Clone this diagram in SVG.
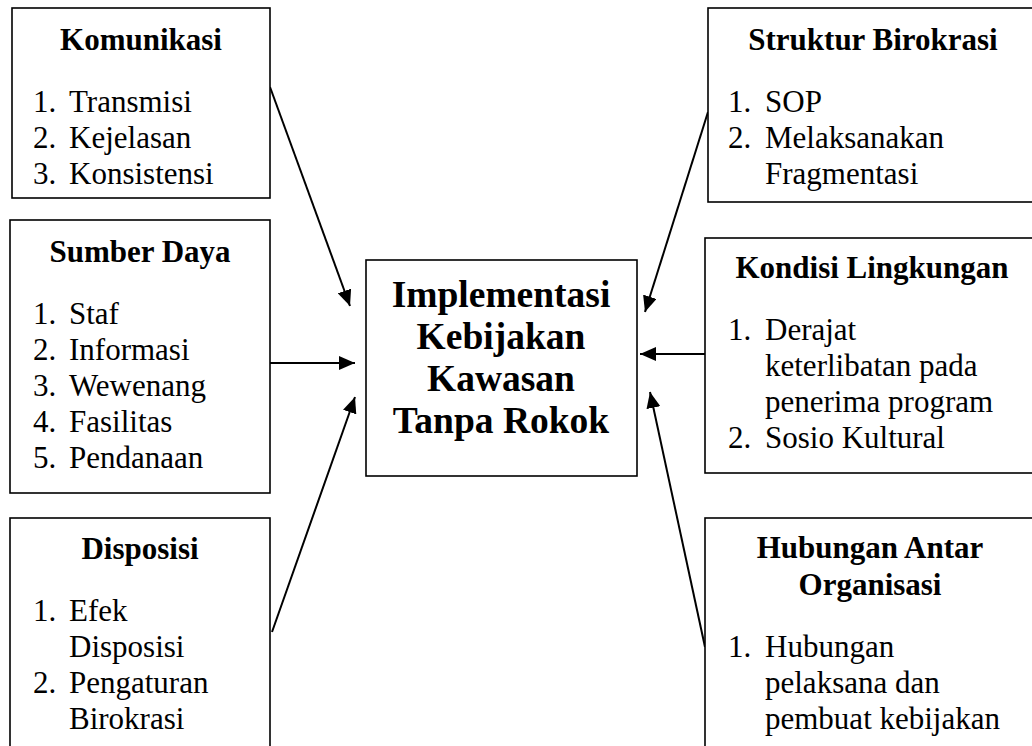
<svg xmlns="http://www.w3.org/2000/svg" width="1032" height="746" viewBox="0 0 1032 746">
<defs>
<style>
.box{fill:#fff;stroke:#000;stroke-width:1.6}
.t{font-family:"Liberation Serif","Times New Roman",serif;font-size:31px;font-weight:bold;text-anchor:middle;fill:#000}
.i{font-family:"Liberation Serif","Times New Roman",serif;font-size:31px;fill:#000}
.c{font-family:"Liberation Serif","Times New Roman",serif;font-size:37.5px;font-weight:bold;text-anchor:middle;fill:#000}
.e{stroke:#000;stroke-width:2;fill:none;marker-end:url(#ah)}
</style>
<marker id="ah" markerUnits="userSpaceOnUse" markerWidth="18" markerHeight="14" refX="16" refY="7" orient="auto">
<path d="M0,0 L16,7 L0,14 Z" fill="#000"/>
</marker>
</defs>
<rect width="1032" height="746" fill="#fff"/>
<g id="connectors">
<line class="e" x1="270" y1="87" x2="350" y2="306"/>
<line class="e" x1="270" y1="363" x2="355" y2="363"/>
<line class="e" x1="272" y1="632" x2="355" y2="397"/>
<line class="e" x1="708" y1="112" x2="645" y2="312"/>
<line class="e" x1="705" y1="354" x2="640" y2="354"/>
<line class="e" x1="705" y1="647" x2="650" y2="392"/>
</g>
<g id="komunikasi">
<rect class="box" x="12" y="8" width="258" height="190"/>
<text class="t" x="141" y="50">Komunikasi</text>
<text class="i" x="33" y="112">1.</text><text class="i" x="69" y="112">Transmisi</text>
<text class="i" x="33" y="148">2.</text><text class="i" x="69" y="148">Kejelasan</text>
<text class="i" x="33" y="184">3.</text><text class="i" x="69" y="184">Konsistensi</text>
</g>
<g id="sumber-daya">
<rect class="box" x="10" y="220" width="260" height="273"/>
<text class="t" x="140" y="262">Sumber Daya</text>
<text class="i" x="33" y="324">1.</text><text class="i" x="69" y="324">Staf</text>
<text class="i" x="33" y="360">2.</text><text class="i" x="69" y="360">Informasi</text>
<text class="i" x="33" y="396">3.</text><text class="i" x="69" y="396">Wewenang</text>
<text class="i" x="33" y="432">4.</text><text class="i" x="69" y="432">Fasilitas</text>
<text class="i" x="33" y="468">5.</text><text class="i" x="69" y="468">Pendanaan</text>
</g>
<g id="disposisi">
<rect class="box" x="10" y="518" width="260" height="250"/>
<text class="t" x="140" y="559">Disposisi</text>
<text class="i" x="33" y="621">1.</text><text class="i" x="69" y="621">Efek</text>
<text class="i" x="69" y="657">Disposisi</text>
<text class="i" x="33" y="693">2.</text><text class="i" x="69" y="693">Pengaturan</text>
<text class="i" x="69" y="729">Birokrasi</text>
</g>
<g id="implementasi">
<rect class="box" x="366" y="260" width="271" height="216"/>
<text class="c" x="501" y="307">Implementasi</text>
<text class="c" x="501" y="349">Kebijakan</text>
<text class="c" x="501" y="391">Kawasan</text>
<text class="c" x="501" y="433">Tanpa Rokok</text>
</g>
<g id="struktur-birokrasi">
<rect class="box" x="708" y="8" width="340" height="194"/>
<text class="t" x="873" y="50">Struktur Birokrasi</text>
<text class="i" x="728" y="112">1.</text><text class="i" x="765" y="112">SOP</text>
<text class="i" x="728" y="148">2.</text><text class="i" x="765" y="148">Melaksanakan</text>
<text class="i" x="765" y="184">Fragmentasi</text>
</g>
<g id="kondisi-lingkungan">
<rect class="box" x="705" y="238" width="345" height="235"/>
<text class="t" x="872" y="278">Kondisi Lingkungan</text>
<text class="i" x="728" y="340">1.</text><text class="i" x="765" y="340">Derajat</text>
<text class="i" x="765" y="376">keterlibatan pada</text>
<text class="i" x="765" y="412">penerima program</text>
<text class="i" x="728" y="448">2.</text><text class="i" x="765" y="448">Sosio Kultural</text>
</g>
<g id="hubungan-antar-organisasi">
<rect class="box" x="705" y="518" width="345" height="250"/>
<text class="t" x="870" y="558">Hubungan Antar</text>
<text class="t" x="870" y="595">Organisasi</text>
<text class="i" x="728" y="657">1.</text><text class="i" x="765" y="657">Hubungan</text>
<text class="i" x="765" y="693">pelaksana dan</text>
<text class="i" x="765" y="729">pembuat kebijakan</text>
</g>
</svg>
